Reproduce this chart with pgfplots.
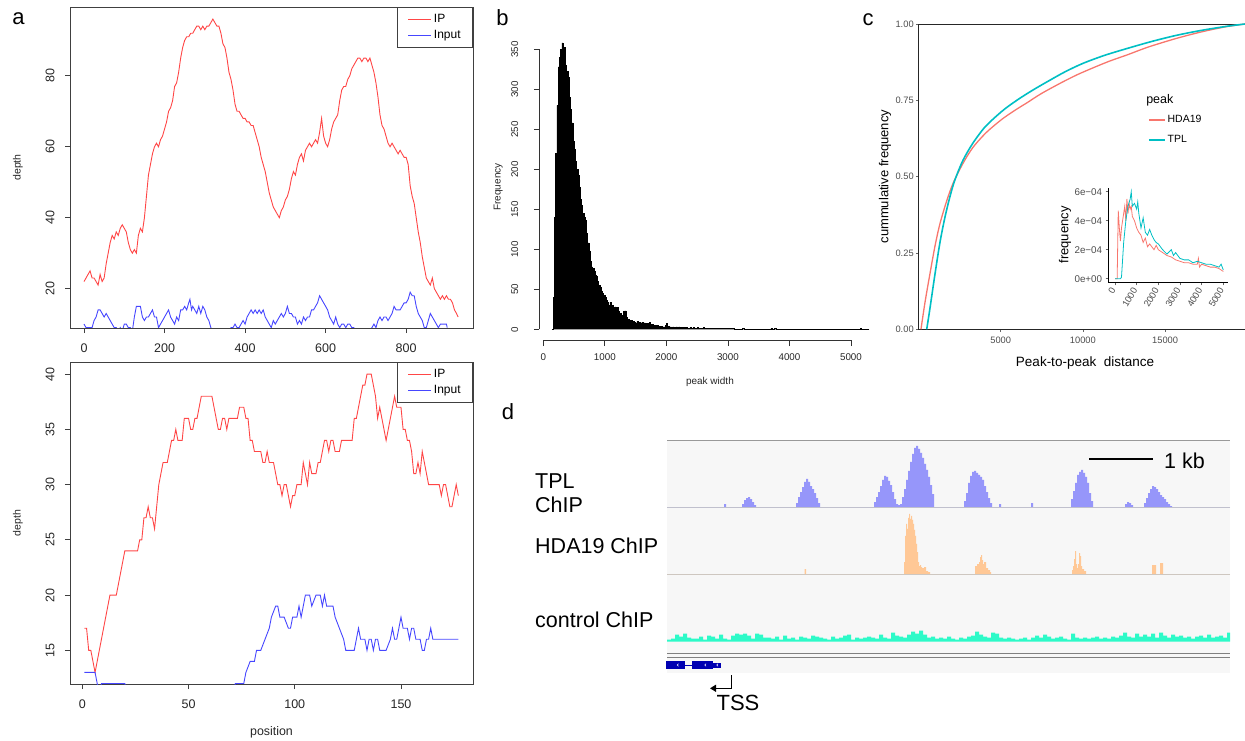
\documentclass[border=0pt]{standalone}
\usepackage{fontspec}
\setmainfont{Liberation Sans}
\usepackage{pgfplots}
\pgfplotsset{compat=1.18}
\usetikzlibrary{arrows.meta}
\definecolor{ipred}{RGB}{255,70,70}
\definecolor{inblue}{RGB}{70,70,255}
\definecolor{hdacol}{HTML}{F8766D}
\definecolor{tplcol}{HTML}{00BFC4}
\definecolor{trTPL}{RGB}{150,150,250}
\definecolor{trHDA}{RGB}{255,200,150}
\definecolor{trCTL}{RGB}{45,250,200}
\definecolor{geneblue}{RGB}{0,0,178}
\newcommand{\fs}[1]{\fontsize{#1}{#1}\selectfont}
\pgfplotsset{
 every axis/.append style={scale only axis, anchor=south west,
   /pgf/number format/assume math mode=true, /pgf/number format/1000 sep={},
   scaled x ticks=false, scaled y ticks=false},
 Rbox/.style={axis line style={draw=black!75, line width=0.8pt},
   tick style={draw=black!75, line width=0.7pt}, tick align=outside, tick pos=left,
   major tick length=5pt, tick label style={font=\fs{12.5}, text=black!85},
   yticklabel style={rotate=90, anchor=south}, xticklabel shift=7pt, yticklabel shift=7pt,
   label style={text=black!85},
   legend style={at={(1,1)}, anchor=north east, draw=black!75, line width=0.8pt,
     font=\fs{12}, cells={anchor=west}, inner xsep=10pt, inner ysep=5pt, row sep=2.5pt},
   legend image code/.code={\draw[##1, line width=1.2pt] (0pt,0pt) -- (23pt,0pt);}}
}
\begin{document}
\begin{tikzpicture}[x=1pt,y=1pt]
\useasboundingbox (0,0) rectangle (1245,740);

% ---------------- panel d
\fill[black!3] (667,67) rectangle (1230,300);
\draw[black!40, line width=0.9pt] (667,300) -- (1230,300);
\draw[black!22, line width=0.8pt] (667,233) -- (1230,233);
\draw[black!22, line width=0.8pt] (667,166) -- (1230,166);
\draw[black!50, line width=1.1pt] (667,86.3) -- (1230,86.3);
\draw[black!50, line width=1.1pt] (667,82.7) -- (1230,82.7);

\begin{axis}[at={(667pt,233pt)}, width=563pt, height=67pt, xmin=667, xmax=1230, ymin=0, ymax=67, hide axis]
\addplot[const plot, fill=trTPL, draw=none] coordinates {
(667,0) (723,0) (724,3) (726,0) (740,0) (742,3) (744,7) (746,9) (748,10) (750,8) (752,5) (754,2) (756,0) (794,0) (796,4) (798,10) (800,15) (802,20) (804,25) (806,28) (808,25) (810,21) (812,18) (814,14) (816,9) (818,4) (820,0) (872,0) (874,5) (876,10) (878,15) (880,21) (882,27) (884,31) (886,30) (888,26) (890,22) (892,15) (894,8) (896,3) (898,2) (900,3) (902,10) (904,18) (906,27) (908,36) (910,45) (912,53) (914,59) (916,61) (918,58) (920,54) (922,49) (924,43) (926,37) (928,30) (930,22) (932,13) (934,0) (962,0) (964,6) (966,14) (968,24) (970,31) (972,35) (974,36) (976,34) (978,32) (980,30) (982,27) (984,21) (986,15) (988,9) (990,4) (992,0) (998,0) (999,3) (1001,0) (1030,0) (1031,4) (1033,0) (1069,0) (1071,8) (1073,16) (1075,24) (1077,32) (1079,35) (1081,37) (1083,34) (1085,30) (1087,24) (1089,14) (1091,6) (1093,0) (1124,0) (1125,3) (1127,5) (1129,4) (1131,2) (1133,0) (1142,0) (1144,4) (1146,9) (1148,14) (1150,18) (1152,21) (1154,20) (1156,18) (1158,15) (1160,12) (1162,10) (1164,8) (1166,5) (1168,3) (1170,1) (1172,0) (1230,0)};
\end{axis}

\begin{axis}[at={(667pt,166pt)}, width=563pt, height=67pt, xmin=667, xmax=1230, ymin=0, ymax=67, hide axis]
\addplot[const plot, fill=trHDA, draw=none] coordinates {
(667,0) (804,0) (804.5,5) (806,0) (903,0) (904,12) (905,38) (906,50) (907,45) (908,56) (909,60) (910,55) (911,58) (912,54) (913,50) (914,44) (915,38) (916,30) (917,22) (918,12) (919,8) (920,9) (921,7) (922,6) (924,7) (926,3) (928,2) (930,0) (974,0) (975,8) (977,10) (979,12) (980,17) (981,19) (982,14) (983,10) (984,12) (986,6) (988,4) (990,2) (991,0) (1071,0) (1072,4) (1073,8) (1074,15) (1075,23) (1076,10) (1077,6) (1078,10) (1079,21) (1080,18) (1081,8) (1082,5) (1084,3) (1086,0) (1151,0) (1152,9) (1156,0) (1160,11) (1163,0) (1230,0)};
\end{axis}

\begin{axis}[at={(667pt,98.3pt)}, width=563pt, height=67pt, xmin=667, xmax=1230, ymin=0, ymax=67, hide axis]
\addplot[const plot, fill=trCTL, draw=none] coordinates {
(667,0) (667,2) (671,3) (675,7) (679,5) (683,8) (687,4) (691,3) (695,3) (699,5) (703,2) (707,6) (711,5) (715,3) (719,7) (723,3) (727,2) (731,6) (735,8) (739,7) (743,8) (747,6) (751,3) (755,8) (759,7) (763,4) (767,4) (771,3) (775,5) (779,2) (783,6) (787,3) (791,4) (795,2) (799,5) (803,4) (807,3) (811,6) (815,5) (819,4) (823,3) (827,2) (831,5) (835,3) (839,4) (843,6) (847,7) (851,2) (855,4) (859,3) (863,4) (867,5) (871,4) (875,3) (879,7) (883,4) (887,3) (891,9) (895,6) (899,5) (903,4) (907,7) (911,10) (915,8) (919,11) (923,7) (927,4) (931,5) (935,3) (939,4) (943,3) (947,5) (951,3) (955,2) (959,4) (963,3) (967,5) (971,6) (975,10) (979,7) (983,5) (987,4) (991,9) (995,8) (999,4) (1003,3) (1007,4) (1011,3) (1015,2) (1019,3) (1023,4) (1027,2) (1031,4) (1035,6) (1039,4) (1043,7) (1047,5) (1051,3) (1055,4) (1059,5) (1063,3) (1067,2) (1071,8) (1075,4) (1079,3) (1083,4) (1087,3) (1091,4) (1095,5) (1099,3) (1103,4) (1107,3) (1111,5) (1115,4) (1119,6) (1123,9) (1127,5) (1131,4) (1135,8) (1139,5) (1143,7) (1147,5) (1151,8) (1155,4) (1159,9) (1163,6) (1167,4) (1171,7) (1175,5) (1179,6) (1183,4) (1187,5) (1191,3) (1195,5) (1199,6) (1203,4) (1207,7) (1211,4) (1215,5) (1219,6) (1223,4) (1227,9) (1230,9) (1230,0)};
\end{axis}

% gene model
\fill[geneblue] (666,70.7) rectangle (685,79.3);
\draw[geneblue, line width=0.8pt] (685,75) -- (692.3,75);
\fill[geneblue] (692.3,70.7) rectangle (712.7,79.3);
\fill[geneblue] (712.7,72.3) rectangle (720.7,77.3);
\draw[white, line width=0.5pt] (678.5,76.3) -- (677.2,75) -- (678.5,73.7);
\draw[white, line width=0.5pt] (706,76.3) -- (704.7,75) -- (706,73.7);
\draw[white, line width=0.5pt] (718,76.3) -- (716.7,75) -- (718,73.7);
% TSS
\draw[black, line width=1.3pt, -{Triangle[length=6pt,width=7pt]}] (731.7,65) -- (731.7,51.7) -- (710,51.7);
\node[font=\fs{22}, inner sep=0pt] at (738,37) {TSS};
% scale bar
\draw[black, line width=1.4pt] (1089,281) -- (1153,281);
\node[font=\fs{21.5}, anchor=west, inner sep=0pt] at (1164,279) {1 kb};
% track labels
\node[font=\fs{21.5}, anchor=west, inner sep=0pt] at (535,259.3) {TPL};
\node[font=\fs{21.5}, anchor=west, inner sep=0pt] at (535,235) {ChIP};
\node[font=\fs{21.5}, anchor=west, inner sep=0pt] at (535,194) {HDA19 ChIP};
\node[font=\fs{21.5}, anchor=west, inner sep=0pt] at (535,120) {control ChIP};

% ---------------- panel b
\begin{axis}[at={(539.3pt,399.5pt)}, width=330.7pt, height=299.2pt,
  xmin=-65, xmax=5309, ymin=-14, ymax=360,
  axis x line*=bottom, axis y line*=left,
  x axis line style={draw=none}, y axis line style={draw=none},
  tick align=outside, major tick length=5.5pt, tick style={draw=black!80, line width=0.7pt},
  xtick={0,1000,2000,3000,4000,5000}, ytick={0,50,100,150,200,250,300,350},
  tick label style={font=\fs{9.8}, text=black!85},
  yticklabel style={rotate=90, anchor=south}, yticklabel shift=12pt, xticklabel shift=4.5pt,
  clip=false, ylabel={Frequency}, xlabel={peak width},
  label style={font=\fs{10}, text=black!85},
  ylabel style={at={(axis description cs:-0.124,0.513)}, anchor=center},
  xlabel style={at={(axis description cs:0.516,-0.14)}, anchor=center}]
\draw[black!80, line width=0.7pt] (axis cs:0,-14) -- (axis cs:5000,-14);
\draw[black!80, line width=0.7pt] (axis cs:-65,0) -- (axis cs:-65,350);
\addplot[const plot, fill=black, draw=black, line width=0.4pt] coordinates {
(140,0) (160,40) (180,140) (200,220) (220,280) (240,328) (260,340) (280,350) (300,358) (320,345) (340,352) (360,330) (380,322) (400,315) (420,290) (440,275) (460,258) (480,235) (500,225) (520,210) (540,200) (560,192) (580,178) (600,162) (620,155) (640,145) (660,140) (680,136) (700,120) (720,108) (740,98) (760,85) (780,78) (800,76) (820,72) (840,68) (860,66) (880,60) (900,55) (920,52) (940,48) (960,45) (980,42) (1000,40) (1020,36) (1040,34) (1060,30) (1080,34) (1100,28) (1120,30) (1140,26) (1160,28) (1180,25) (1200,27) (1220,22) (1240,20) (1260,18) (1280,17) (1300,22) (1320,23) (1340,15) (1360,13) (1380,12) (1400,10) (1420,11) (1440,9) (1460,10) (1480,9) (1500,8) (1520,10) (1540,8) (1560,9) (1580,8) (1600,9) (1620,7) (1640,8) (1660,6) (1680,7) (1700,6) (1720,9) (1740,5) (1760,6) (1780,5) (1800,5) (1820,4) (1840,5) (1860,4) (1880,4) (1900,3) (1920,4) (1940,3) (1960,3) (1980,5) (2000,7) (2020,4) (2040,3) (2060,3) (2080,2) (2100,3) (2120,2) (2140,2) (2160,3) (2180,2) (2200,3) (2220,2) (2240,2) (2260,1) (2280,2) (2300,1) (2320,2) (2340,1) (2360,1) (2380,2) (2400,1) (2440,2) (2460,1) (2500,2) (2520,1) (2560,1) (2600,2) (2620,1) (2680,1) (2720,1) (2760,1) (2800,1) (2840,1) (2900,1) (2960,1) (3000,1) (3060,1) (3100,0) (3240,1) (3260,0) (3700,1) (3720,0) (3760,1) (3780,0) (5150,1) (5170,0) (5300,0)};
\end{axis}

% ---------------- panel c
\begin{axis}[at={(918.5pt,410.7pt)}, width=326.5pt, height=305.3pt,
  xmin=0, xmax=19860, ymin=0, ymax=1,
  xtick={5000,10000,15000}, ytick={0,0.25,0.5,0.75,1},
  y tick label style={/pgf/number format/fixed, /pgf/number format/fixed zerofill, /pgf/number format/precision=2},
  axis line style={draw=black!85, line width=0.8pt},
  tick style={draw=black!60, line width=0.6pt}, tick align=outside, tick pos=left, major tick length=2.7pt,
  tick label style={font=\fs{9.3}, text=black!70}, xticklabel shift=1pt, yticklabel shift=-1.4pt,
  xlabel={Peak-to-peak\ \ distance}, ylabel={cummulative frequency},
  xlabel style={font=\fs{13.5}, at={(axis description cs:0.51,-0.109)}, anchor=center},
  ylabel style={font=\fs{13}, at={(axis description cs:-0.1026,0.5)}, anchor=center},
  legend style={at={(0.703,0.707)}, anchor=north west, draw=none, fill=none, font=\fs{10.5},
    inner xsep=0pt, inner ysep=0pt, row sep=7pt, cells={anchor=west}},
  legend image code/.code={\draw[#1, line width=1.4pt] (0pt,0pt) -- (16pt,0pt);}]
\addplot[hdacol, line width=1.3pt, smooth] coordinates {
(150,0) (400,0.09) (700,0.183) (1000,0.272) (1300,0.345) (1700,0.418) (2100,0.478) (2700,0.543) (3300,0.595) (4000,0.638) (4550,0.665) (5200,0.693) (6000,0.722) (6600,0.742) (7500,0.773) (8800,0.811) (9700,0.835) (10600,0.856) (11600,0.878) (12700,0.899) (14000,0.925) (15700,0.953) (17200,0.974) (18700,0.991) (19860,1.0)};
\addlegendentry{HDA19}
\addplot[tplcol, line width=1.6pt, smooth] coordinates {
(500,0) (700,0.07) (1000,0.18) (1300,0.283) (1600,0.365) (1900,0.432) (2200,0.487) (2700,0.553) (3300,0.609) (4000,0.66) (4750,0.699) (5400,0.728) (6200,0.758) (7000,0.785) (7800,0.81) (8900,0.843) (10000,0.871) (11300,0.897) (12700,0.92) (14200,0.943) (15700,0.963) (17200,0.979) (18700,0.992) (19860,1.0)};
\addlegendentry{TPL}
\node[font=\fs{12.5}, anchor=west, inner sep=0pt] at (rel axis cs:0.697,0.751) {peak};
\end{axis}

% inset
\begin{axis}[at={(1108.3pt,457.3pt)}, width=120pt, height=94.7pt,
  xmin=-309, xmax=5231, ymin=-0.276, ymax=6.26,
  axis x line*=bottom, axis y line*=left,
  axis line style={draw=black, line width=0.8pt, -},
  tick style={draw=black!60, line width=0.6pt}, tick align=outside, major tick length=2.7pt,
  xtick={0,1000,2000,3000,4000,5000}, ytick={0,2,4,6},
  yticklabels={0e+00,2e−04,4e−04,6e−04},
  tick label style={font=\fs{9.8}, text=black!70},
  xticklabel style={rotate=60, anchor=east, font=\fs{9.3}},
  ylabel={frequency}, ylabel style={font=\fs{13}, at={(axis description cs:-0.36,0.504)}, anchor=center}]
\addplot[hdacol, line width=0.8pt] coordinates {
(0,0) (100,0) (150,4.7) (200,3.5) (250,2.6) (300,3.5) (400,4.5) (450,5.0) (500,4.0) (550,5.5) (600,4.5) (650,5.2) (700,4.8) (750,5.0) (800,4.3) (900,4.0) (1000,3.5) (1100,3.2) (1200,3.0) (1300,2.5) (1400,2.8) (1500,2.2) (1600,2.4) (1700,2.2) (1800,2.0) (1900,2.3) (2000,2.0) (2200,1.8) (2400,1.6) (2600,1.5) (2800,1.3) (3000,1.2) (3200,1.1) (3400,1.1) (3600,1.0) (3800,1.0) (3850,1.4) (3900,0.8) (4000,1.0) (4200,0.9) (4400,0.8) (4600,0.8) (4800,0.7) (5000,0.5)};
\addplot[tplcol, line width=0.8pt] coordinates {
(0,0) (250,0) (300,0.1) (400,2.5) (500,4.0) (600,5.0) (700,5.5) (750,6.0) (800,5.0) (900,5.2) (1000,4.8) (1050,5.3) (1100,4.5) (1200,3.5) (1300,4.2) (1400,3.2) (1500,3.0) (1600,3.4) (1700,3.0) (1800,2.7) (1900,2.5) (2000,2.4) (2200,2.0) (2400,1.7) (2600,2.0) (2700,1.6) (2800,1.8) (3000,1.4) (3200,1.3) (3400,1.3) (3600,1.1) (3800,1.2) (4000,1.1) (4200,1.0) (4400,1.0) (4600,0.9) (4800,0.8) (4900,1.0) (5000,0.6)};
\end{axis}

% ---------------- panel a (bottom)
\begin{axis}[Rbox, at={(70pt,56pt)}, width=403pt, height=322pt,
  xmin=-5.8, xmax=183.9, ymin=11.95, ymax=41.1,
  xtick={0,50,100,150}, ytick={15,20,25,30,35,40},
  xlabel={position}, xlabel style={at={(axis description cs:0.5,-0.149)}, anchor=center, font=\fs{12.4}},
  ylabel={depth}, ylabel style={at={(axis description cs:-0.129,0.5)}, anchor=center, font=\fs{10.5}}]
\addplot[ipred, line width=0.9pt] coordinates {
(1,17) (2,17) (3,15) (4,15) (5,14) (6,13) (7,14) (8,15) (9,16) (10,17) (11,18) (12,19) (13,20) (14,20) (15,20) (16,20) (17,21) (18,22) (19,23) (20,24) (21,24) (22,24) (23,24) (24,24) (25,24) (26,24) (27,25) (28,25) (29,27) (30,27) (31,28) (32,27) (33,27) (34,26) (35,28) (36,30) (37,31) (38,32) (39,32) (40,32) (41,33) (42,34) (43,34) (44,35) (45,34) (46,34) (47,34) (48,36) (49,36) (50,36) (51,35) (52,35) (53,36) (54,36) (55,37) (56,38) (57,38) (58,38) (59,38) (60,38) (61,38) (62,37) (63,36) (64,35) (65,35) (66,36) (67,36) (68,35) (69,36) (70,36) (71,36) (72,36) (73,36) (74,37) (75,37) (76,37) (77,36) (78,36) (79,34) (80,34) (81,33) (82,33) (83,33) (84,33) (85,32) (86,32) (87,33) (88,32) (89,32) (90,32) (91,31) (92,30) (93,30) (94,29) (95,30) (96,30) (97,29) (98,28) (99,29) (100,29) (101,30) (102,30) (103,30) (104,32) (105,31) (106,30) (107,32) (108,31) (109,31) (110,31) (111,32) (112,32) (113,33) (114,34) (115,34) (116,33) (117,34) (118,34) (119,33) (120,33) (121,33) (122,34) (123,34) (124,34) (125,34) (126,34) (127,34) (128,36) (129,36) (130,37) (131,38) (132,39) (133,39) (134,40) (135,40) (136,40) (137,39) (138,38) (139,36) (140,37) (141,36) (142,35) (143,34) (144,35) (145,36) (146,37) (147,38) (148,37) (149,37) (150,37) (151,35) (152,35) (153,34) (154,34) (155,33) (156,31) (157,31) (158,32) (159,31) (160,33) (161,32) (162,31) (163,30) (164,30) (165,30) (166,30) (167,30) (168,30) (169,29) (170,30) (171,30) (172,29) (173,28) (174,28) (175,29) (176,30) (177,29)};
\addlegendentry{IP}
\addplot[inblue, line width=0.9pt] coordinates {
(1,13) (2,13) (3,13) (4,13) (5,13) (6,13) (7,12) (8,11) (9,12) (20,12) (21,11) (71,11) (72,12) (76,12) (77,13) (79,14) (81,14) (82,15) (84,15) (86,16) (88,17) (89,18) (91,19) (92,19) (93,18) (95,18) (97,17) (98,17) (99,18) (101,18) (102,19) (103,18) (104,19) (105,20) (107,20) (108,19) (110,20) (112,20) (113,19) (114,20) (115,19) (118,19) (119,18) (121,17) (123,16) (124,15) (128,15) (130,17) (131,16) (133,16) (134,15) (135,16) (136,16) (137,15) (138,16) (139,16) (140,15) (143,15) (145,16) (146,17) (147,16) (148,16) (150,18) (151,17) (153,17) (154,16) (155,17) (156,17) (157,16) (159,16) (160,15) (161,15) (162,16) (163,16) (164,17) (165,16) (177,16)};
\addlegendentry{Input}
\end{axis}

% ---------------- panel a (top)
\begin{axis}[Rbox, at={(70pt,412pt)}, width=403pt, height=321pt,
  xmin=-34.8, xmax=966, ymin=8.9, ymax=99.4,
  xtick={0,200,400,600,800}, ytick={20,40,60,80},
  ylabel={depth}, ylabel style={at={(axis description cs:-0.129,0.5)}, anchor=center, font=\fs{10.5}}]
\addplot[ipred, line width=0.9pt] coordinates {
(0,22) (5,23) (10,24) (15,25) (20,23) (25,23) (30,22) (35,21) (40,24) (45,22) (50,23) (55,27) (60,30) (65,33) (70,35) (75,34) (80,36) (85,35) (90,37) (95,38) (100,37) (105,36) (110,33) (115,31) (120,30) (125,31) (130,30) (135,35) (140,37) (145,36) (150,40) (155,46) (160,52) (165,55) (170,58) (175,60) (180,61) (185,60) (190,62) (195,63) (200,65) (205,67) (210,70) (215,71) (220,73) (225,77) (230,78) (235,81) (240,85) (245,88) (250,90) (255,91) (260,91) (265,92) (270,92) (275,93) (280,94) (285,94) (290,93) (295,94) (300,93) (305,94) (310,94) (315,95) (320,96) (325,95) (330,94) (335,94) (340,92) (345,89) (350,88) (355,85) (360,81) (365,79) (370,76) (375,72) (380,70) (385,70) (390,69) (395,68) (400,68) (405,67) (410,67) (415,66) (420,66) (425,64) (430,62) (435,60) (440,57) (445,55) (450,53) (455,50) (460,47) (465,45) (470,43) (475,42) (480,41) (485,40) (490,42) (495,43) (500,45) (505,46) (510,48) (515,51) (520,53) (525,52) (530,55) (535,57) (540,58) (545,56) (550,59) (555,60) (560,61) (565,60) (570,61) (575,62) (580,61) (585,64) (590,68) (595,63) (600,61) (605,60) (610,62) (615,65) (620,67) (625,68) (630,69) (635,73) (640,76) (645,77) (650,77) (655,79) (660,80) (665,82) (670,83) (675,84) (680,85) (685,85) (690,84) (695,85) (700,85) (705,84) (710,85) (715,83) (720,81) (725,78) (730,74) (735,69) (740,66) (745,65) (750,63) (755,61) (760,60) (765,61) (770,60) (775,59) (780,58) (785,59) (790,58) (795,57) (800,57) (805,55) (810,49) (815,46) (820,44) (825,40) (830,36) (835,33) (840,29) (845,26) (850,23) (855,22) (860,21) (865,23) (870,20) (875,19) (880,18) (885,17) (890,18) (895,17) (900,18) (905,17) (910,17) (915,16) (920,14) (925,13) (929,12)};
\addlegendentry{IP}
\addplot[inblue, line width=0.9pt] coordinates {
(0,10) (5,9) (10,9) (15,9) (20,9) (25,11) (30,12) (35,14) (40,14) (45,13) (50,12) (55,13) (60,12) (65,11) (70,10) (75,9) (80,9) (85,8) (90,9) (95,8) (100,10) (105,10) (110,9) (115,9) (120,8) (125,12) (130,15) (135,15) (140,15) (145,12) (150,11) (155,12) (160,12) (165,13) (170,14) (175,12) (180,12) (185,9) (190,10) (195,11) (200,12) (205,13) (210,14) (215,12) (220,11) (225,10) (230,12) (235,11) (240,14) (245,14) (250,15) (255,14) (260,16) (263,17) (267,14) (270,15) (275,14) (280,13) (285,15) (290,13) (295,15) (300,14) (305,12) (310,11) (315,9) (320,8) (360,8) (365,9) (370,9) (375,10) (380,9) (385,9) (390,10) (395,11) (400,10) (405,12) (410,13) (415,14) (420,13) (425,14) (430,13) (435,14) (440,13) (445,14) (450,12) (455,11) (460,10) (465,9) (470,11) (475,10) (480,11) (485,12) (490,13) (495,12) (500,13) (505,15) (510,13) (515,13) (520,12) (525,12) (530,10) (535,11) (540,10) (545,12) (550,11) (555,12) (560,12) (565,14) (570,14) (575,15) (580,16) (585,18) (590,17) (595,16) (600,15) (605,14) (610,12) (615,11) (620,10) (625,12) (630,10) (635,9) (640,10) (645,10) (650,9) (655,10) (660,10) (665,9) (670,9) (675,8) (710,8) (715,9) (720,10) (725,9) (730,11) (735,12) (740,11) (745,12) (750,12) (755,11) (760,12) (765,13) (770,15) (775,14) (780,14) (785,14) (790,15) (795,16) (800,16) (805,17) (810,19) (815,18) (820,18) (825,15) (830,13) (835,12) (840,11) (845,9) (850,9) (855,11) (860,13) (865,12) (870,11) (875,10) (880,9) (885,10) (890,10) (895,10) (900,10) (902,9)};
\addlegendentry{Input}
\end{axis}

% panel letters
\node[font=\fs{22}, inner sep=0pt] at (18.5,721) {a};
\node[font=\fs{22}, inner sep=0pt] at (502.5,722) {b};
\node[font=\fs{22}, inner sep=0pt] at (868,720) {c};
\node[font=\fs{22}, inner sep=0pt] at (508,328) {d};
\end{tikzpicture}
\end{document}
